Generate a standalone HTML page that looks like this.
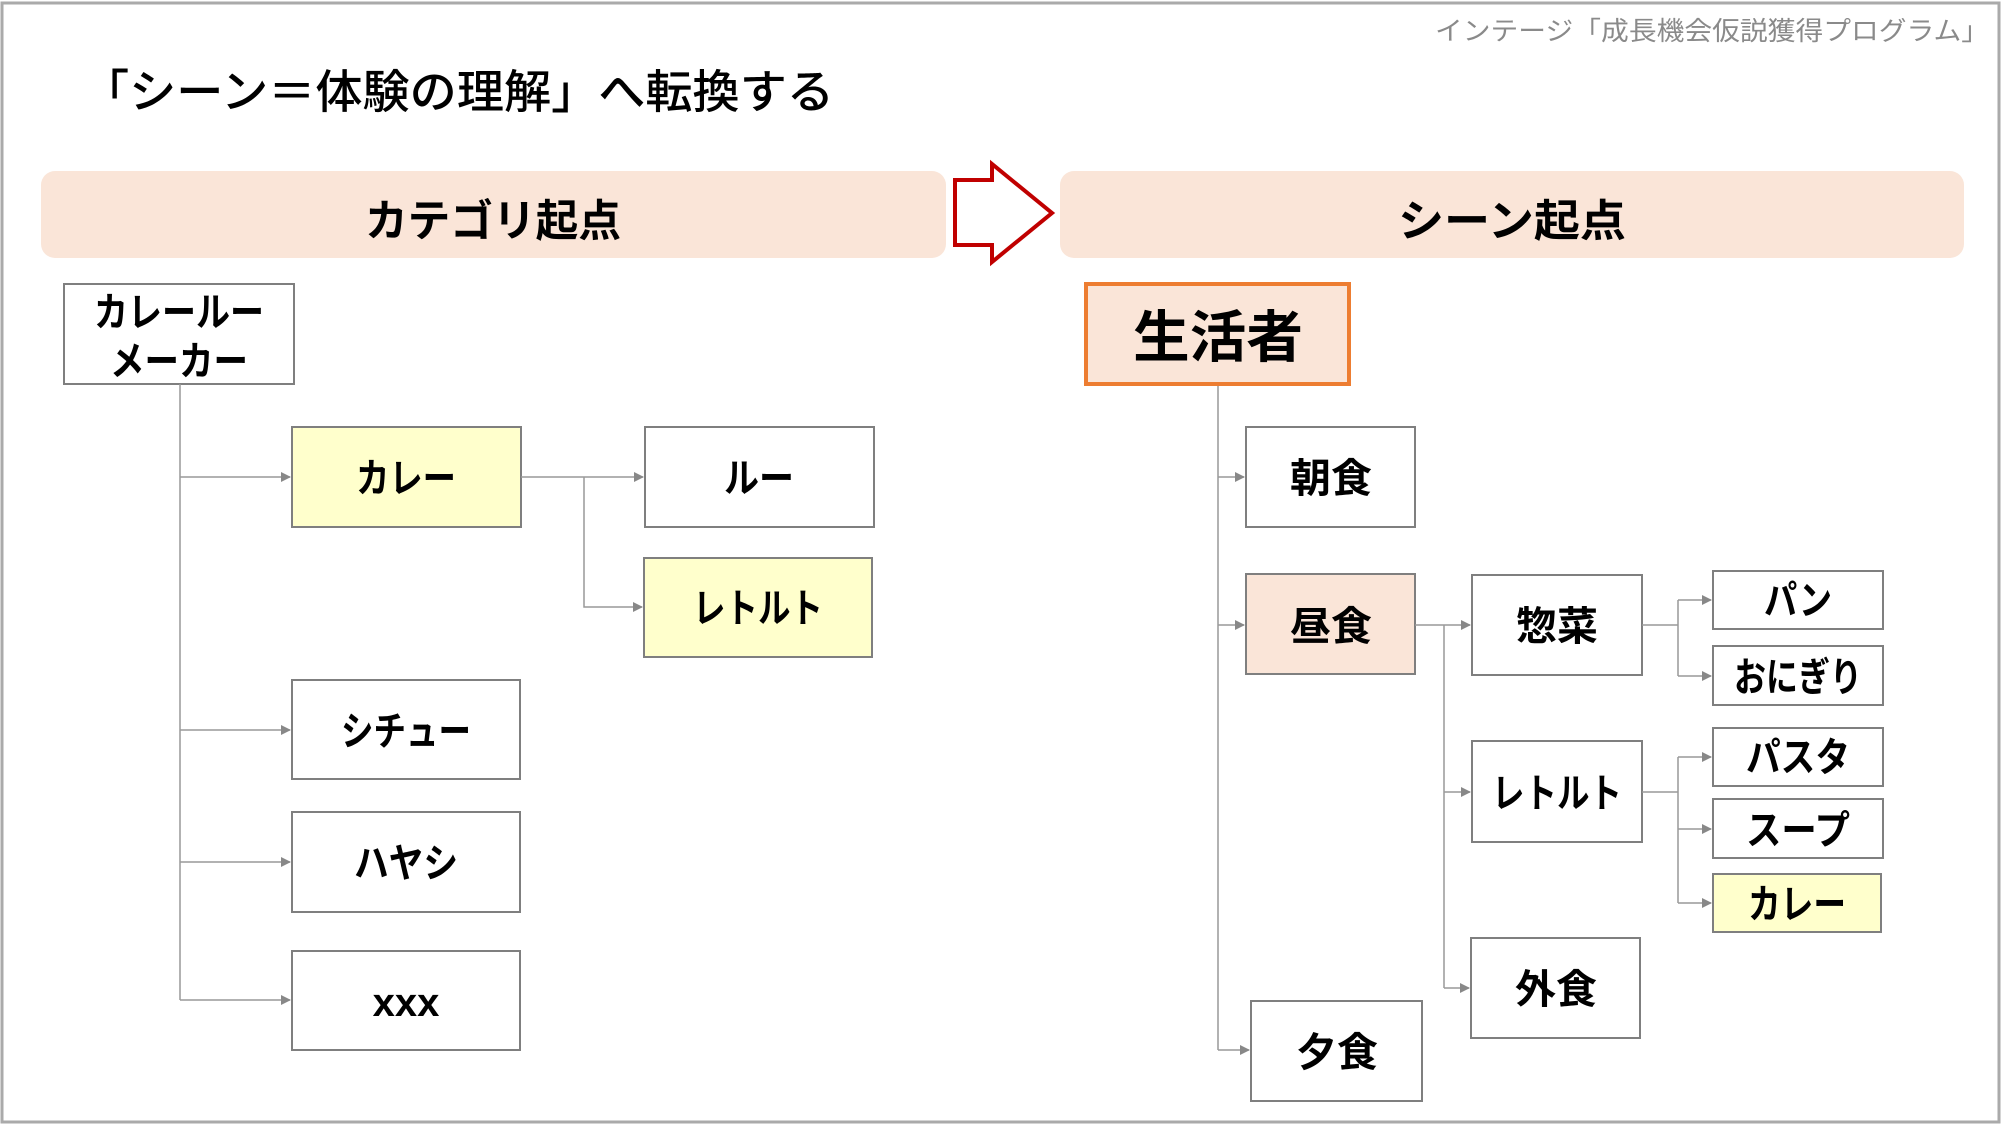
<!DOCTYPE html>
<html><head><meta charset="utf-8"><style>
html,body{margin:0;padding:0;background:#fff;}
svg{display:block;}
text{font-family:"Liberation Sans","Noto Sans CJK JP",sans-serif;}
.b{font-weight:bold;fill:#000;}
</style></head><body>
<svg width="2004" height="1124" viewBox="0 0 2004 1124" xmlns="http://www.w3.org/2000/svg">
<defs>
<marker id="a" markerWidth="10" markerHeight="10" refX="9" refY="5" orient="auto" markerUnits="userSpaceOnUse">
<path d="M0,0 L10,5 L0,10 z" fill="#888"/></marker>
</defs>
<rect x="2" y="3" width="1997" height="1119" fill="#fff" stroke="#aaa" stroke-width="3"/>
<text x="1989" y="40" text-anchor="end" font-size="26" fill="#8a8a8a" textLength="554" lengthAdjust="spacingAndGlyphs">インテージ「成長機会仮説獲得プログラム」</text>
<text x="82" y="108" font-size="46" font-weight="500" fill="#000" textLength="752" lengthAdjust="spacingAndGlyphs">「シーン＝体験の理解」へ転換する</text>

<rect x="41" y="171" width="905" height="87" rx="14" fill="#fae5d8"/>
<text x="493" y="236" class="b" font-size="44" text-anchor="middle" textLength="256" lengthAdjust="spacingAndGlyphs">カテゴリ起点</text>
<rect x="1060" y="171" width="904" height="87" rx="14" fill="#fae5d8"/>
<text x="1512" y="236" class="b" font-size="44" text-anchor="middle" textLength="228" lengthAdjust="spacingAndGlyphs">シーン起点</text>

<path d="M955,180 L992,180 L992,164 L1052,213 L992,262 L992,245 L955,245 Z" fill="#fff" stroke="#c00000" stroke-width="4"/>

<g fill="#fff" stroke="#7f7f7f" stroke-width="2">
<rect x="64" y="284" width="230" height="100"/>
<rect x="292" y="427" width="229" height="100" fill="#ffffcc"/>
<rect x="645" y="427" width="229" height="100"/>
<rect x="644" y="558" width="228" height="99" fill="#ffffcc"/>
<rect x="292" y="680" width="228" height="99"/>
<rect x="292" y="812" width="228" height="100"/>
<rect x="292" y="951" width="228" height="99"/>

<rect x="1246" y="427" width="169" height="100"/>
<rect x="1246" y="574" width="169" height="100" fill="#fae5d8"/>
<rect x="1251" y="1001" width="171" height="100"/>
<rect x="1472" y="575" width="170" height="100"/>
<rect x="1472" y="741" width="170" height="101"/>
<rect x="1471" y="938" width="169" height="100"/>
<rect x="1713" y="571" width="170" height="58"/>
<rect x="1713" y="646" width="170" height="59"/>
<rect x="1713" y="728" width="170" height="58"/>
<rect x="1713" y="799" width="170" height="59"/>
<rect x="1713" y="874" width="168" height="58" fill="#ffffcc"/>
</g>
<rect x="1086" y="284" width="263" height="100" fill="#fae5d8" stroke="#ed7d31" stroke-width="4"/>

<g fill="none" stroke="#999" stroke-width="1.5">
<path d="M180,384 V1000"/>
<path d="M180,477 H290" marker-end="url(#a)"/>
<path d="M180,730 H290" marker-end="url(#a)"/>
<path d="M180,862 H290" marker-end="url(#a)"/>
<path d="M180,1000 H290" marker-end="url(#a)"/>
<path d="M521,477 H643" marker-end="url(#a)"/>
<path d="M584,477 V607 H642" marker-end="url(#a)"/>

<path d="M1218,386 V1050"/>
<path d="M1218,477 H1244" marker-end="url(#a)"/>
<path d="M1218,625 H1244" marker-end="url(#a)"/>
<path d="M1218,1050 H1249" marker-end="url(#a)"/>
<path d="M1415,625 H1470" marker-end="url(#a)"/>
<path d="M1444,625 V988"/>
<path d="M1444,792 H1470" marker-end="url(#a)"/>
<path d="M1444,988 H1469" marker-end="url(#a)"/>
<path d="M1642,625 H1678"/>
<path d="M1678,600 V676"/>
<path d="M1678,600 H1711" marker-end="url(#a)"/>
<path d="M1678,676 H1711" marker-end="url(#a)"/>
<path d="M1642,792 H1678"/>
<path d="M1678,757 V903"/>
<path d="M1678,757 H1711" marker-end="url(#a)"/>
<path d="M1678,829 H1711" marker-end="url(#a)"/>
<path d="M1678,903 H1711" marker-end="url(#a)"/>
</g>

<g class="b" font-size="40" text-anchor="middle">
<text x="179" y="326" textLength="170" lengthAdjust="spacingAndGlyphs">カレールー</text>
<text x="179" y="375" textLength="138" lengthAdjust="spacingAndGlyphs">メーカー</text>
<text x="406" y="492" textLength="100" lengthAdjust="spacingAndGlyphs">カレー</text>
<text x="759" y="492" textLength="70" lengthAdjust="spacingAndGlyphs">ルー</text>
<text x="758" y="622" textLength="130" lengthAdjust="spacingAndGlyphs">レトルト</text>
<text x="406" y="745" textLength="130" lengthAdjust="spacingAndGlyphs">シチュー</text>
<text x="406" y="877" textLength="104" lengthAdjust="spacingAndGlyphs">ハヤシ</text>
<text x="406" y="1016">xxx</text>
<text x="1218" y="357" font-size="56" textLength="170" lengthAdjust="spacingAndGlyphs">生活者</text>
<text x="1331" y="492" textLength="82" lengthAdjust="spacingAndGlyphs">朝食</text>
<text x="1331" y="640" textLength="82" lengthAdjust="spacingAndGlyphs">昼食</text>
<text x="1337" y="1066" textLength="82" lengthAdjust="spacingAndGlyphs">夕食</text>
<text x="1557" y="640" textLength="82" lengthAdjust="spacingAndGlyphs">惣菜</text>
<text x="1557" y="807" textLength="130" lengthAdjust="spacingAndGlyphs">レトルト</text>
<text x="1556" y="1003" textLength="82" lengthAdjust="spacingAndGlyphs">外食</text>
<text x="1798" y="614" textLength="68" lengthAdjust="spacingAndGlyphs">パン</text>
<text x="1798" y="691" textLength="128" lengthAdjust="spacingAndGlyphs">おにぎり</text>
<text x="1798" y="771" textLength="104" lengthAdjust="spacingAndGlyphs">パスタ</text>
<text x="1798" y="844" textLength="104" lengthAdjust="spacingAndGlyphs">スープ</text>
<text x="1797" y="918" textLength="98" lengthAdjust="spacingAndGlyphs">カレー</text>
</g>
</svg>
</body></html>
